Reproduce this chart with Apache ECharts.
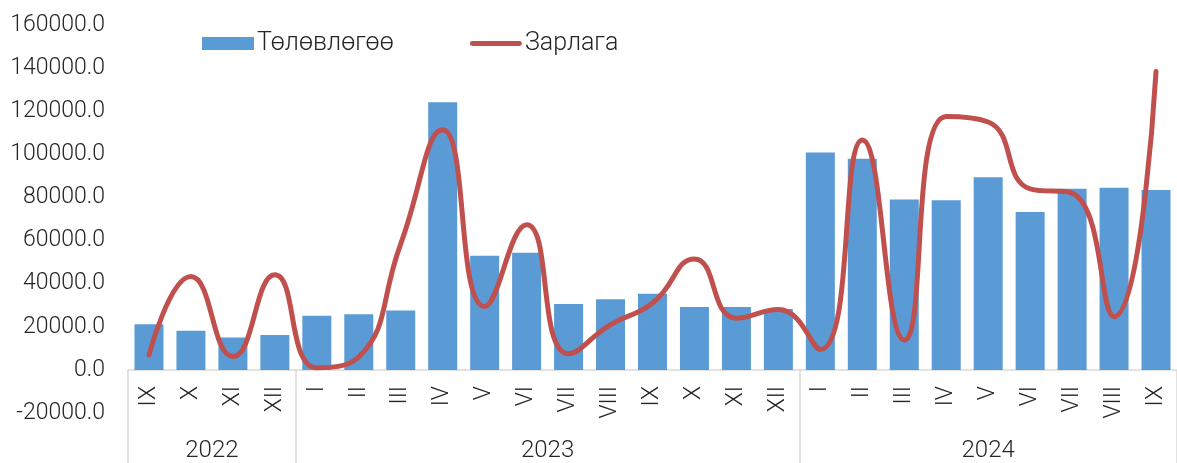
<!DOCTYPE html>
<html>
<head>
<meta charset="utf-8">
<script src="https://cdn.jsdelivr.net/npm/echarts@6/dist/echarts.min.js"></script>
<style>
  html, body { margin: 0; padding: 0; background: #fff; }
  #chart { width: 1177px; height: 463px; }
</style>
</head>
<body>
<div id="chart"></div>
<script>
const months = ['IX', 'X', 'XI', 'XII',
  'I', 'II', 'III', 'IV', 'V', 'VI', 'VII', 'VIII', 'IX', 'X', 'XI', 'XII',
  'I', 'II', 'III', 'IV', 'V', 'VI', 'VII', 'VIII', 'IX']
const years = ['2022', '2023', '2024']
const yearSizes = [4, 12, 9]

const plan = [21200, 18100, 15000, 16200,
  25100, 25800, 27500, 124200, 53000, 54300, 30600, 32800, 35300, 29200, 29200, 28300,
  100800, 97900, 79000, 78700, 89400, 73200, 84000, 84500, 83500]
const spent = [7000, 43300, 6200, 44100,
  1000, 6000, 58500, 111400, 29400, 67300, 7500, 21000, 31000, 51500, 24000, 28000,
  9500, 106700, 13900, 117500, 115000, 84000, 82000, 24700, 138400]

const FONT = 'Roboto, sans-serif'
const TXT = '#262626'
const GRAY = '#d9d9d9'

// group edges and centers for the year row
const edges = [0]
yearSizes.forEach(n => edges.push(edges[edges.length - 1] + n))
const centers = years.map((_, i) => (edges[i] + edges[i + 1]) / 2)

const chart = echarts.init(document.getElementById('chart'))
chart.setOption({
  animation: false,
  textStyle: { fontFamily: FONT, fontWeight: 300 },
  legend: {
    left: 202,
    top: 31,
    padding: 0,
    itemWidth: 52,
    itemHeight: 13,
    itemGap: 76,
    symbolKeepAspect: true,
    textStyle: { fontFamily: FONT, fontWeight: 300, fontSize: 25, color: TXT, padding: [0, 0, 0, -2] },
    data: [
      { name: 'Төлөвлөгөө', icon: 'rect' },
      { name: 'Зарлага', icon: 'path://M2,0 h48 a2.5,2.5 0 0 1 0,5 h-48 a2.5,2.5 0 0 1 0,-5 z' }
    ]
  },
  grid: { left: 128, right: -9, top: 25, bottom: 50 },
  xAxis: [{
    type: 'category',
    data: months,
    position: 'bottom',
    offset: -43,
    axisLine: { onZero: false, lineStyle: { color: GRAY, width: 1.5 } },
    axisTick: { show: false },
    axisLabel: {
      rotate: 90, margin: 16, fontSize: 23, fontWeight: 300, color: TXT, fontFamily: FONT, interval: 0
    }
  }, {
    type: 'value',
    min: 0,
    max: months.length,
    position: 'bottom',
    offset: -43,
    axisLine: { show: false, onZero: false },
    splitLine: { show: false },
    axisTick: {
      show: true, length: 93, customValues: edges,
      lineStyle: { color: GRAY, width: 1.5 }
    },
    axisLabel: {
      customValues: centers,
      formatter: v => years[centers.indexOf(v)] || '',
      margin: 69, fontSize: 24, fontWeight: 300, color: TXT, fontFamily: FONT
    }
  }],
  yAxis: {
    type: 'value',
    min: -20000,
    max: 160000,
    interval: 20000,
    axisLine: { show: false },
    axisTick: { show: false },
    splitLine: { show: false },
    axisLabel: {
      margin: 23, fontSize: 23, fontWeight: 300, color: TXT, fontFamily: FONT,
      formatter: v => v.toFixed(1)
    }
  },
  series: [{
    name: 'Төлөвлөгөө',
    type: 'bar',
    barWidth: 29,
    data: plan,
    itemStyle: { color: '#5B9BD5' }
  }, {
    name: 'Зарлага',
    type: 'line',
    smooth: 0.5,
    symbol: 'none',
    data: spent,
    lineStyle: { color: '#C0504D', width: 5, cap: 'round' },
    itemStyle: { color: '#C0504D' }
  }]
})
</script>
</body>
</html>
